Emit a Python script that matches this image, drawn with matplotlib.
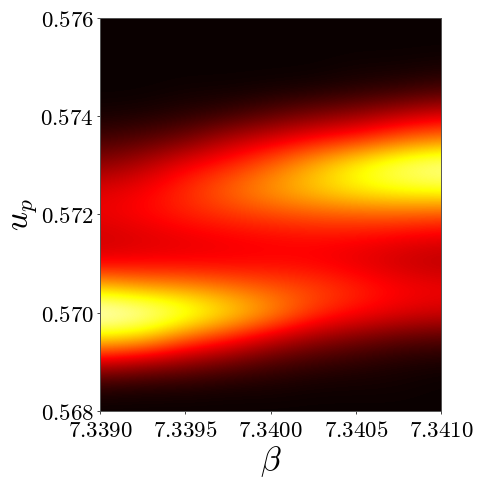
import numpy as np
import matplotlib
matplotlib.use('Agg')
import matplotlib.pyplot as plt

plt.rcParams['mathtext.fontset'] = 'cm'
plt.rcParams['axes.unicode_minus'] = False

# grid positions of the values
beta = [7.3390, 7.33925, 7.3395, 7.33975, 7.3400, 7.34025, 7.3405, 7.34075, 7.3410]
up = [0.5680, 0.5685, 0.5690, 0.5695, 0.5700, 0.5705, 0.5710, 0.5715, 0.5720,
      0.5725, 0.5730, 0.5735, 0.5740, 0.5745, 0.5750, 0.5755, 0.5760]

# one row per up value, bottom to top
I_568_0 = [0.00, 0.00, 0.00, 0.00, 0.00, 0.00, 0.00, 0.00, 0.00]
I_568_5 = [0.04, 0.03, 0.03, 0.02, 0.02, 0.01, 0.01, 0.01, 0.00]
I_569_0 = [0.30, 0.25, 0.20, 0.15, 0.10, 0.07, 0.05, 0.03, 0.02]
I_569_5 = [0.72, 0.68, 0.52, 0.42, 0.30, 0.22, 0.17, 0.13, 0.11]
I_570_0 = [1.00, 0.95, 0.84, 0.72, 0.60, 0.45, 0.38, 0.33, 0.30]
I_570_5 = [0.68, 0.62, 0.60, 0.55, 0.50, 0.47, 0.42, 0.37, 0.35]
I_571_0 = [0.35, 0.36, 0.36, 0.36, 0.37, 0.36, 0.33, 0.29, 0.26]
I_571_5 = [0.29, 0.31, 0.33, 0.35, 0.36, 0.37, 0.36, 0.34, 0.32]
I_572_0 = [0.34, 0.37, 0.41, 0.44, 0.47, 0.49, 0.50, 0.50, 0.48]
I_572_5 = [0.32, 0.36, 0.43, 0.52, 0.60, 0.67, 0.73, 0.77, 0.78]
I_573_0 = [0.20, 0.26, 0.36, 0.42, 0.52, 0.64, 0.76, 0.86, 0.92]
I_573_5 = [0.09, 0.12, 0.17, 0.27, 0.33, 0.40, 0.45, 0.53, 0.58]
I_574_0 = [0.02, 0.03, 0.05, 0.08, 0.13, 0.18, 0.22, 0.28, 0.33]
I_574_5 = [0.00, 0.00, 0.01, 0.01, 0.02, 0.03, 0.05, 0.07, 0.10]
I_575_0 = [0.00, 0.00, 0.00, 0.00, 0.00, 0.00, 0.01, 0.01, 0.02]
I_575_5 = [0.00, 0.00, 0.00, 0.00, 0.00, 0.00, 0.00, 0.00, 0.00]
I_576_0 = [0.00, 0.00, 0.00, 0.00, 0.00, 0.00, 0.00, 0.00, 0.00]

xticks = [7.3390, 7.3395, 7.3400, 7.3405, 7.3410]
xticklabels = ['7.3390', '7.3395', '7.3400', '7.3405', '7.3410']
yticks = [0.568, 0.570, 0.572, 0.574, 0.576]
yticklabels = ['0.568', '0.570', '0.572', '0.574', '0.576']

Z = np.array([I_568_0, I_568_5, I_569_0, I_569_5, I_570_0, I_570_5, I_571_0, I_571_5, I_572_0,
              I_572_5, I_573_0, I_573_5, I_574_0, I_574_5, I_575_0, I_575_5, I_576_0])

fig = plt.figure(figsize=(4.82, 4.82), dpi=100)
ax = fig.add_axes([100 / 482, 1 - 411 / 482, 341 / 482, 393 / 482])

# half a cell of margin so the values sit on their grid positions
dx = (beta[1] - beta[0]) / 2
dy = (up[1] - up[0]) / 2
ax.imshow(Z, origin='lower', aspect='auto', cmap='hot', vmin=0, vmax=1, interpolation='bicubic',
          extent=[beta[0] - dx, beta[-1] + dx, up[0] - dy, up[-1] + dy])
ax.set_xlim(beta[0], beta[-1])
ax.set_ylim(up[0], up[-1])

ax.set_xticks(xticks)
ax.set_xticklabels(['$' + s + '$' for s in xticklabels], fontsize=16.5)
ax.set_yticks(yticks)
ax.set_yticklabels(['$' + s + '$' for s in yticklabels], fontsize=16.5)
ax.tick_params(length=2.5, width=0.7, color='#444444')
ax.tick_params(axis='y', pad=2)
ax.tick_params(axis='x', pad=3)
for s in ax.spines.values():
    s.set_color('#555555')
    s.set_linewidth(0.7)

ax.set_xlabel(r'$\beta$', fontsize=24)
ax.set_ylabel(r'$u_p$', fontsize=24)
ax.xaxis.set_label_coords(0.5, -0.085)
ax.yaxis.set_label_coords(-0.178, 0.5)

plt.savefig('out.png', dpi=100)
